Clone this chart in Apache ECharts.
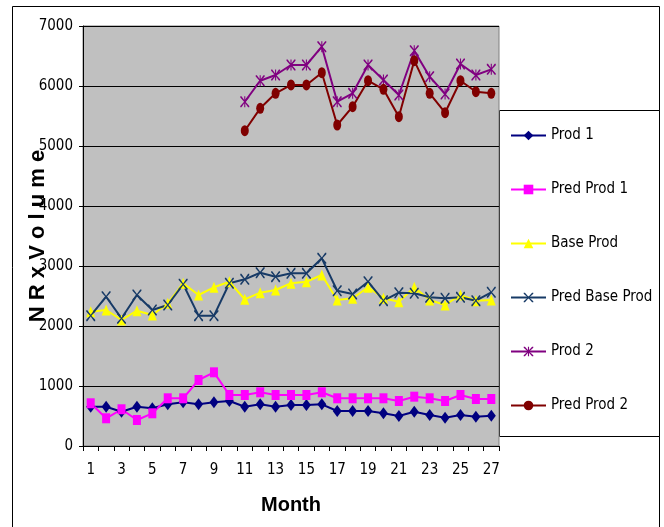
<!DOCTYPE html>
<html>
<head>
<meta charset="utf-8">
<script src="https://cdn.jsdelivr.net/npm/echarts@6/dist/echarts.min.js"></script>
<style>
html,body{margin:0;padding:0;background:#fff;}
#chart{width:664px;height:527px;}
</style>
</head>
<body>
<div id="chart"></div>
<script>
var months = ['1','2','3','4','5','6','7','8','9','10','11','12','13','14','15','16','17','18','19','20','21','22','23','24','25','26','27'];
var prod1 = [655,655,572,655,628,695,728,695,728,750,655,695,655,683,683,695,583,583,583,545,500,572,517,472,517,488,505];
var predProd1 = [712,462,612,433,545,795,795,1100,1228,850,850,895,850,850,850,895,795,795,795,795,750,822,795,750,850,783,783];
var baseProd = [2238,2267,2100,2255,2183,2378,2712,2517,2645,2738,2445,2555,2600,2712,2738,2850,2433,2462,2645,2462,2405,2645,2433,2350,2517,2422,2433];
var predBaseProd = [2172,2488,2128,2517,2267,2350,2695,2172,2172,2712,2778,2888,2822,2878,2878,3128,2588,2533,2738,2422,2555,2545,2478,2462,2478,2422,2562];
var prod2 = [null,null,null,null,null,null,null,null,null,null,5738,6088,6183,6350,6350,6655,5738,5878,6350,6100,5850,6588,6155,5867,6367,6183,6278];
var predProd2 = [null,null,null,null,null,null,null,null,null,null,5255,5628,5878,6017,6017,6222,5350,5655,6088,5945,5488,6422,5878,5555,6088,5905,5878];
var seriesNames = ['Prod 1','Pred Prod 1','Base Prod','Pred Base Prod','Prod 2','Pred Prod 2'];
var yTitle = 'N R x V o l u m e';
var xTitle = 'Month';

var narrow = "'Liberation Sans Narrow','DejaVu Sans Condensed','Liberation Sans',sans-serif";
var xSym = 'path://M0,0L1.3,0L5,4.2L8.7,0L10,0L10,1.2L5.8,5L10,8.8L10,10L8.7,10L5,5.8L1.3,10L0,10L0,8.8L4.2,5L0,1.2Z';
var starSym = 'path://M0,0L1.3,0L5,4.2L8.7,0L10,0L10,1.2L5.8,5L10,8.8L10,10L8.7,10L5,5.8L1.3,10L0,10L0,8.8L4.2,5L0,1.2Z M4.4,0L5.6,0L5.6,10L4.4,10Z';

function mk(name, data, color, symbol, size) {
  return {
    name: name, type: 'line', data: data,
    symbol: symbol, symbolSize: size,
    showAllSymbol: true,
    lineStyle: {color: color, width: 2},
    itemStyle: {color: color},
    connectNulls: false,
    animation: false
  };
}

var chart = echarts.init(document.getElementById('chart'));
chart.setOption({
  backgroundColor: '#ffffff',
  animation: false,
  grid: {left: 83, top: 26, width: 416, height: 420, show: true, backgroundColor: '#c0c0c0', borderColor: '#808080', borderWidth: 1},
  xAxis: {
    type: 'category', data: months, boundaryGap: true,
    name: xTitle, nameLocation: 'middle', nameGap: 49,
    nameTextStyle: {fontFamily: 'Liberation Sans, Arial, sans-serif', fontWeight: 'bold', fontSize: 20, color: '#000'},
    axisLine: {lineStyle: {color: '#000', width: 1}},
    axisTick: {show: true, length: 5, alignWithLabel: false, interval: 0, lineStyle: {color: '#000'}},
    axisLabel: {interval: 1, margin: 17, fontFamily: narrow, fontSize: 15, color: '#000'},
    splitLine: {show: false}
  },
  yAxis: {
    type: 'value', min: 0, max: 7000, interval: 1000,
    name: yTitle, nameLocation: 'middle', nameGap: 34, nameRotate: 90, nameMoveOverlap: false,
    nameTextStyle: {fontFamily: 'Liberation Sans, Arial, sans-serif', fontWeight: 'bold', fontSize: 22, color: '#000'},
    axisLine: {show: true, lineStyle: {color: '#000', width: 1}},
    axisTick: {show: true, length: 4, lineStyle: {color: '#000'}},
    axisLabel: {margin: 10, fontFamily: narrow, fontSize: 15, color: '#000', formatter: function (v) { return String(v); }},
    splitLine: {show: true, lineStyle: {color: '#000', width: 1}}
  },
  legend: {
    orient: 'vertical', left: 500, top: 110,
    padding: [18, 8, 28, 10],
    itemGap: 39, itemWidth: 35, itemHeight: 12,
    textStyle: {fontFamily: narrow, fontSize: 15, color: '#000'},
    data: seriesNames
  },
  graphic: [
    {type: 'rect', silent: true, z: -10, shape: {x: 12.5, y: 6.5, width: 647, height: 540}, style: {fill: null, stroke: '#000', lineWidth: 1}},
    {type: 'rect', silent: true, z: -5, shape: {x: 499.5, y: 110.5, width: 160, height: 326}, style: {fill: '#fff', stroke: '#000', lineWidth: 1}}
  ],
  series: [
    mk(seriesNames[0], prod1, '#000080', 'diamond', [9, 12]),
    mk(seriesNames[1], predProd1, '#ff00ff', 'rect', [8, 10]),
    mk(seriesNames[2], baseProd, '#ffff00', 'triangle', [9, 11]),
    mk(seriesNames[3], predBaseProd, '#173a66', xSym, [9, 11]),
    mk(seriesNames[4], prod2, '#800080', starSym, [9, 11]),
    mk(seriesNames[5], predProd2, '#800000', 'circle', [8, 11])
  ]
});
</script>
</body>
</html>
